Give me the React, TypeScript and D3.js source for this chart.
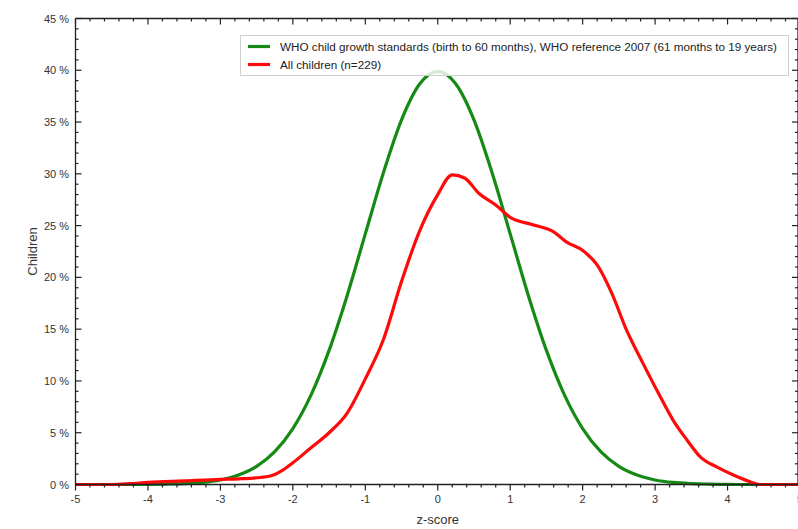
import React from "react";
import * as d3 from "d3";

const whoX = [-5, -4.75, -4.5, -4.25, -4, -3.75, -3.5, -3.25, -3, -2.75, -2.5, -2.25, -2, -1.75, -1.5, -1.25, -1, -0.75, -0.5, -0.25, 0, 0.25, 0.5, 0.75, 1, 1.25, 1.5, 1.75, 2, 2.25, 2.5, 2.75, 3, 3.25, 3.5, 3.75, 4, 4.25, 4.5, 4.75, 5];
const whoY = [0, 0, 0, 0, 0.01, 0.04, 0.09, 0.2, 0.44, 0.91, 1.75, 3.17, 5.4, 8.63, 12.95, 18.26, 24.2, 30.11, 35.21, 38.67, 39.89, 38.67, 35.21, 30.11, 24.2, 18.26, 12.95, 8.63, 5.4, 3.17, 1.75, 0.91, 0.44, 0.2, 0.09, 0.04, 0.01, 0, 0, 0, 0];

const allX = [-5, -4.5, -4.25, -4, -3.5, -3, -2.75, -2.5, -2.3, -2.15, -2, -1.75, -1.5, -1.25, -1, -0.75, -0.5, -0.25, 0, 0.2, 0.37, 0.57, 0.8, 1.0, 1.3, 1.6, 1.78, 2.0, 2.2, 2.4, 2.6, 2.84, 3.07, 3.25, 3.44, 3.62, 3.85, 4.08, 4.31, 4.45, 5];
const allY = [0, 0, 0.08, 0.2, 0.35, 0.5, 0.55, 0.65, 0.85, 1.35, 2.1, 3.55, 5.0, 6.9, 10.2, 14.0, 19.6, 24.5, 28.0, 29.9, 29.6, 28.1, 27.0, 25.8, 25.1, 24.4, 23.4, 22.6, 21.2, 18.5, 15.0, 11.6, 8.5, 6.2, 4.3, 2.7, 1.7, 0.92, 0.27, 0.0, 0];

const xTicks = [-5, -4, -3, -2, -1, 0, 1, 2, 3, 4, 5];
const yTicks = [0, 5, 10, 15, 20, 25, 30, 35, 40, 45];

const seriesNames = [
  "WHO child growth standards (birth to 60 months), WHO reference 2007 (61 months to 19 years)",
  "All children (n=229)",
];
const seriesColors = ["#158a15", "#ff0a0a"];

export default function App() {
  const W = 798, H = 529;
  const left = 75.5, right = 800, top = 18.5, bottom = 484.5;
  const x = d3.scaleLinear().domain([-5, 5]).range([left, right]);
  const y = d3.scaleLinear().domain([0, 45]).range([bottom, top]);

  const line = d3
    .line<[number, number]>()
    .x((d) => x(d[0]))
    .y((d) => y(d[1]))
    .curve(d3.curveMonotoneX);

  const whoData: [number, number][] = whoX.map((v, i) => [v, whoY[i]]);
  const allData: [number, number][] = allX.map((v, i) => [v, allY[i]]);

  const xMinor = d3.range(-5, 5.0001, 0.2).filter((v) => Math.abs(v - Math.round(v)) > 0.01);
  const yMinor = d3.range(0, 45.0001, 1).filter((v) => v % 5 !== 0);

  const font = "Arial, 'Liberation Sans', sans-serif";
  const axisColor = "#222";

  return (
    <svg
      width={W}
      height={H}
      style={{ position: "absolute", left: 0, top: 0, background: "#fff" }}
      fontFamily={font}
    >
      <rect x={0} y={0} width={W} height={H} fill="#fff" />
      {/* curves */}
      <path d={line(whoData) || ""} fill="none" stroke={seriesColors[0]} strokeWidth={3.2} strokeLinejoin="round" />
      <path d={line(allData) || ""} fill="none" stroke={seriesColors[1]} strokeWidth={3.2} strokeLinejoin="round" />

      {/* frame */}
      <g stroke={axisColor} strokeWidth={1.3} fill="none">
        <line x1={left} x2={right} y1={bottom} y2={bottom} />
        <line x1={left} x2={right} y1={top} y2={top} />
        <line x1={left} x2={left} y1={top} y2={bottom} />
        <line x1={right - 2} x2={right - 2} y1={top} y2={bottom} />
      </g>

      {/* x ticks bottom (outward) and top (inward) */}
      <g stroke={axisColor} strokeWidth={1.2}>
        {xTicks.map((t) => (
          <g key={"xt" + t}>
            <line x1={x(t)} x2={x(t)} y1={bottom} y2={bottom + 6} />
            <line x1={x(t)} x2={x(t)} y1={top} y2={top + 6} />
          </g>
        ))}
        {xMinor.map((t, i) => (
          <g key={"xm" + i}>
            <line x1={x(t)} x2={x(t)} y1={bottom} y2={bottom + 3} />
            <line x1={x(t)} x2={x(t)} y1={top} y2={top + 3} />
          </g>
        ))}
        {yTicks.map((t) => (
          <g key={"yt" + t}>
            <line x1={left} x2={left + 6} y1={y(t)} y2={y(t)} />
            <line x1={right - 2} x2={right - 8} y1={y(t)} y2={y(t)} />
          </g>
        ))}
        {yMinor.map((t) => (
          <g key={"ym" + t}>
            <line x1={left} x2={left + 3} y1={y(t)} y2={y(t)} />
            <line x1={right - 2} x2={right - 5} y1={y(t)} y2={y(t)} />
          </g>
        ))}
      </g>

      {/* tick labels */}
      <g fontSize={11} fill="#333">
        {xTicks.map((t) => (
          <text key={"xl" + t} x={x(t)} y={503} textAnchor="middle">
            {t}
          </text>
        ))}
        {yTicks.map((t) => (
          <text key={"yl" + t} x={69} y={y(t) + 4} textAnchor="end">
            {t + " %"}
          </text>
        ))}
      </g>

      {/* axis titles */}
      <text x={x(0)} y={524} textAnchor="middle" fontSize={13} fill="#333">
        z-score
      </text>
      <text
        transform={`translate(37, ${(top + bottom) / 2}) rotate(-90)`}
        textAnchor="middle"
        fontSize={13}
        fill="#333"
      >
        Children
      </text>

      {/* legend */}
      <g>
        <rect x={240.5} y={35.5} width={548} height={40} fill="#fff" fillOpacity={0.82} stroke="#d0d0d0" strokeWidth={1} />
        {seriesNames.map((name, i) => (
          <g key={name}>
            <line x1={248} x2={270} y1={46.5 + i * 18} y2={46.5 + i * 18} stroke={seriesColors[i]} strokeWidth={3.2} />
            <text x={280} y={50.5 + i * 18} fontSize={11.7} fill="#222">
              {name}
            </text>
          </g>
        ))}
      </g>
    </svg>
  );
}
